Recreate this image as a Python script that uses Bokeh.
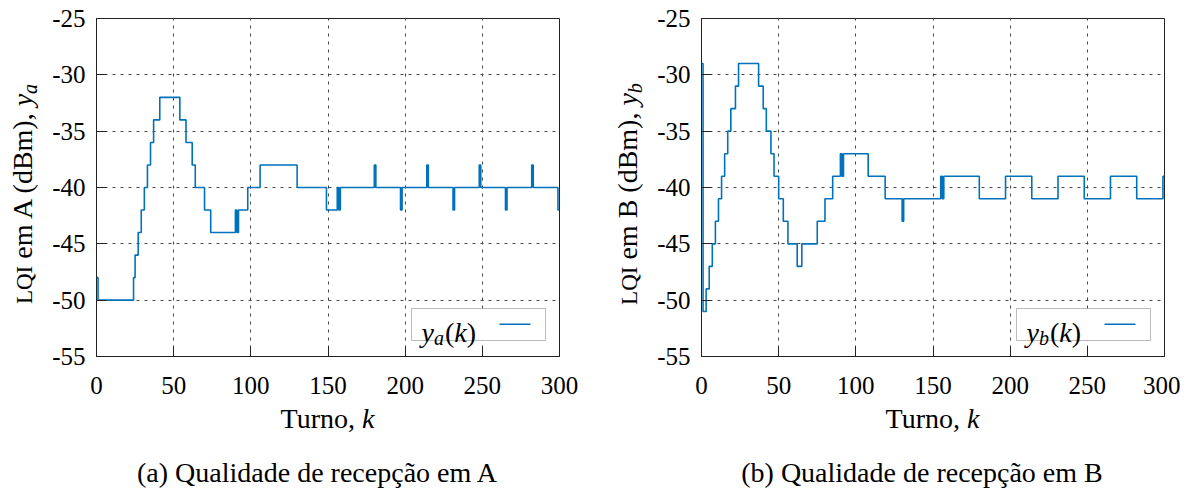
from bokeh.plotting import figure
from bokeh.models import Range1d, FixedTicker, Label, BoxAnnotation, Div
from bokeh.layouts import row, column
from bokeh.embed import file_html
from bokeh.resources import INLINE

# ---------------- data (breakpoints of the step signals) ----------------
k_a = [0, 1, 24, 25, 27, 29, 31, 33, 35, 37, 41, 54, 58, 62, 64, 70, 74, 90, 91, 92,
       98, 106, 130, 149, 156, 157, 158, 180, 181, 197, 198, 214, 215, 231, 232, 248,
       249, 265, 266, 282, 283, 299]
y_a = [-48, -50, -48, -46, -44, -42, -40, -38, -36, -34, -32, -34, -36, -38, -40, -42,
       -44, -42, -44, -42, -40, -38, -40, -42, -40, -42, -40, -38, -40, -42, -40, -38,
       -40, -42, -40, -38, -40, -42, -40, -38, -40, -42]

k_b = [0, 1, 3, 5, 7, 9, 11, 13, 15, 17, 19, 22, 24, 37, 40, 42, 45, 47, 50, 53,
       56, 62, 65, 75, 80, 85, 90, 91, 92, 108, 119, 130, 131, 155, 156, 157, 180,
       197, 214, 231, 248, 265, 282, 299]
y_b = [-29, -51, -49, -47, -45, -43, -41, -39, -37, -35, -33, -31, -29, -31, -33, -35,
       -37, -39, -41, -43, -45, -47, -45, -43, -41, -39, -37, -39, -37, -39, -41, -43,
       -41, -39, -41, -39, -41, -39, -41, -39, -41, -39, -41, -39]

k_max = 300
x_ticks = [0, 50, 100, 150, 200, 250, 300]
x_labels = ["0", "50", "100", "150", "200", "250", "300"]
y_ticks = [-55, -50, -45, -40, -35, -30, -25]
y_labels = ["-55", "-50", "-45", "-40", "-35", "-30", "-25"]

captions = ["(a) Qualidade de recepção em A", "(b) Qualidade de recepção em B"]
ylab_place = ["A", "B"]
subs = ["a", "b"]

LINE_COLOR = "#0072BD"
FONT = "Liberation Serif"
FS = 25      # tick labels
FS_T = 28    # axis labels, captions
LH = 32
LEG_FS, LEG_SUB = 28, 20

W_UP = {"(": .333, ")": .333}
W_IT = {"y": .444, "a": .5, "b": .5, "k": .444}


def text_w(t, italic, size):
    tab = W_IT if italic else W_UP
    return sum(tab.get(c, .5) for c in t) * size


def step_series(kb, vb):
    xs = list(range(k_max + 1))
    ys = []
    j = 0
    for x in xs:
        while j + 1 < len(kb) and kb[j + 1] <= x:
            j += 1
        ys.append(vb[j])
    return xs, ys


FRAME_W, FRAME_H = 463, 338
FIG_H = 408
BORDER_TOP, BORDER_BOTTOM = 18, 52
BORDER_LEFT = 56
XLAB_H, CAP_H = 36, 42
BASE_OFF = (LH - 1.107 * FS_T) / 2 + 0.891 * FS_T   # baseline inside a line box
TEXT_CSS = (f"font-family:'{FONT}';font-size:{FS_T}px;line-height:{LH}px;color:black;"
            "white-space:nowrap;")


def make_panel(idx, kb, vb, fig_w):
    border_right = fig_w - BORDER_LEFT - FRAME_W
    p = figure(width=fig_w, height=FIG_H, output_backend="svg", toolbar_location=None,
               x_range=Range1d(0, 300), y_range=Range1d(-55, -25),
               min_border_left=BORDER_LEFT, min_border_right=border_right,
               min_border_top=BORDER_TOP, min_border_bottom=BORDER_BOTTOM)

    def fx(px):  # px relative to frame left
        return px * 300.0 / FRAME_W

    def fy(py):  # py relative to frame top
        return -25 - py * 30.0 / FRAME_H

    p.background_fill_color = "white"
    p.border_fill_color = "white"
    p.outline_line_color = "#222222"
    p.outline_line_width = 1

    for ax in (p.xaxis[0], p.yaxis[0]):
        ax.axis_line_color = "#222222"
        ax.major_tick_line_color = "#222222"
        ax.major_tick_in = 10
        ax.major_tick_out = 0
        ax.minor_tick_line_color = None
        ax.major_label_text_font = FONT
        ax.major_label_text_font_size = f"{FS}px"
        ax.major_label_text_color = "black"
    p.xaxis.ticker = FixedTicker(ticks=x_ticks)
    p.yaxis.ticker = FixedTicker(ticks=y_ticks)
    p.xaxis.major_label_overrides = {t: l for t, l in zip(x_ticks, x_labels)}
    p.yaxis.major_label_overrides = {t: l for t, l in zip(y_ticks, y_labels)}
    p.xaxis.major_label_standoff = 20
    p.yaxis.major_label_standoff = 11

    for g in (p.xgrid[0], p.ygrid[0]):
        g.grid_line_color = "#444444"
        g.grid_line_dash = "3 5"
        g.grid_line_width = 1
    p.xgrid.ticker = FixedTicker(ticks=x_ticks)
    p.ygrid.ticker = FixedTicker(ticks=y_ticks)

    xs, ys = step_series(kb, vb)
    p.step(xs, ys, mode="after", line_color=LINE_COLOR, line_width=1.6)

    def lab(px, py, txt, italic=False, size=LEG_FS):
        p.add_layout(Label(x=fx(px), y=fy(py), text=txt, level="overlay",
                           text_font=FONT, text_font_size=f"{size}px",
                           text_font_style="italic" if italic else "normal",
                           text_align="left", text_baseline="alphabetic",
                           text_color="black"))

    # legend box (positions relative to the frame's top-left corner)
    bl, br = 315, 449
    bt, bb = 290, 322
    p.add_layout(BoxAnnotation(left=fx(bl), right=fx(br), top=fy(bt), bottom=fy(bb),
                               fill_color="white", fill_alpha=1.0,
                               line_color="#222222", line_width=1))
    tx = bl + 10
    base = 314
    lab(tx, base, "y", italic=True)
    tx += text_w("y", True, LEG_FS)
    lab(tx, base + 5, subs[idx], italic=True, size=LEG_SUB)
    tx += text_w(subs[idx], True, LEG_SUB) + 1
    lab(tx, base, "(")
    tx += text_w("(", False, LEG_FS)
    lab(tx, base, "k", italic=True)
    tx += text_w("k", True, LEG_FS)
    lab(tx, base, ")")
    p.add_layout(BoxAnnotation(left=fx(bl + 88), right=fx(bl + 119),
                               top=fy(305.0), bottom=fy(306.6),
                               fill_color=LINE_COLOR, fill_alpha=1.0, line_color=None))
    return p


def ylabel_div(idx, div_w):
    # box 388 x LH rotated about its centre; baseline lands 64 px left of the frame
    base_x = div_w + BORDER_LEFT - 64
    cx = base_x - BASE_OFF + LH / 2
    left = cx - 194
    top = 194 - LH / 2
    html = (f"<div style=\"position:relative;left:{left:.1f}px;top:{top:.1f}px;"
            f"width:388px;height:{LH}px;transform:rotate(-90deg);text-align:center;"
            f"{TEXT_CSS}\"><span style=\"font-size:23px\">LQI</span> em "
            f"{ylab_place[idx]} (dBm), <i>y</i><span style=\"font-size:20px;"
            f"font-style:italic;vertical-align:-5px;line-height:0\">{subs[idx]}</span>"
            f"</div>")
    return Div(text=html, width=div_w, height=FIG_H + XLAB_H, margin=0)


def xlabel_div(fig_w):
    top = 430 - (2 + FIG_H) - BASE_OFF
    html = (f"<div style=\"position:relative;left:{BORDER_LEFT}px;top:{top:.1f}px;"
            f"width:{FRAME_W}px;height:{LH}px;text-align:center;{TEXT_CSS}\">"
            f"Turno, <i>k</i></div>")
    return Div(text=html, width=fig_w, height=XLAB_H, margin=0)


def caption_div(idx, left, w):
    top = 484 - (2 + FIG_H + XLAB_H) - BASE_OFF
    html = (f"<div style=\"position:relative;left:{left}px;top:{top:.1f}px;width:500px;"
            f"height:{LH}px;text-align:center;{TEXT_CSS}\">{captions[idx]}</div>")
    return Div(text=html, width=w, height=CAP_H, margin=0)


YLAB_A, FIG_A = 40, 550     # frame A left edge at 1 + 40 + 56 = 97
YLAB_B, FIG_B = 55, 535     # frame B left edge at 591 + 55 + 56 = 702

pA = make_panel(0, k_a, y_a, FIG_A)
pB = make_panel(1, k_b, y_b, FIG_B)

top = row(ylabel_div(0, YLAB_A), column(pA, xlabel_div(FIG_A)),
          ylabel_div(1, YLAB_B), column(pB, xlabel_div(FIG_B)))
bottom = row(caption_div(0, 67, YLAB_A + FIG_A), caption_div(1, 82, YLAB_B + FIG_B))
layout = column(top, bottom)
open("out.html", "w").write(file_html(layout, INLINE))
